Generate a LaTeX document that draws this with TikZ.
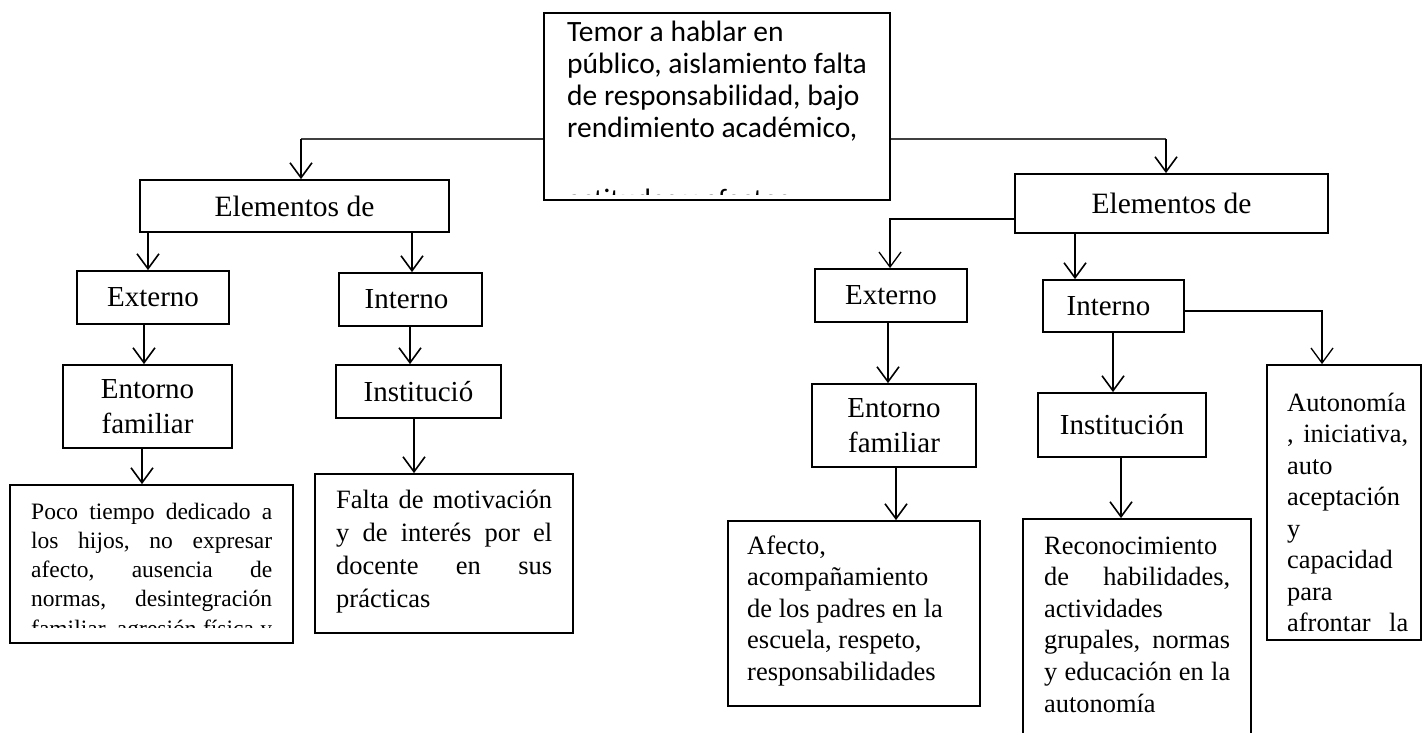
\documentclass[tikz,border=0pt]{standalone}
\usepackage{fontspec}
\setmainfont{Liberation Serif}
\newfontfamily\carlito{Carlito}
\usetikzlibrary{arrows.meta}
\newcommand{\J}[1]{\hbox to \hsize{\frenchspacing\spaceskip=0.25em plus 1fil\relax #1}}
\newcommand{\Lf}[1]{\hbox{#1}}
\begin{document}
\begin{tikzpicture}[x=1pt,y=-1pt,
  box/.style={draw, line width=1.8pt, inner sep=0pt},
  lbl/.style={font=\fontsize{29}{35}\selectfont, align=center},
  txt/.style={anchor=base west, inner sep=0pt},
  arr/.style={line width=1.6pt, -{Straight Barb[length=15pt,width=22pt]}},
  hline/.style={line width=1.2pt, draw=black!75}]
\path[use as bounding box] (0,0) rectangle (1423,732);
\clip (0,0) rectangle (1423,732);

% boxes
\node[box, minimum width=346pt, minimum height=187pt] (top) at (717,106.5) {};
\node[box, lbl, font=\fontsize{29.5}{35}\selectfont, minimum width=309pt, minimum height=52pt] (elemL) at (294.5,206) {Elementos de};
\node[box, lbl, font=\fontsize{29.5}{35}\selectfont, minimum width=313pt, minimum height=59pt] (elemR) at (1171.5,203.5) {Elementos de};
\node[box, lbl, minimum width=152pt, minimum height=53pt] (extL) at (153,297.5) {Externo};
\node[box, lbl, minimum width=143pt, minimum height=53pt] (intL) at (410.5,299.5) {Interno\hspace*{8pt}};
\node[box, lbl, minimum width=169pt, minimum height=83pt] (entL) at (147.5,406.5) {Entorno\\familiar};
\node[box, lbl, minimum width=165pt, minimum height=53pt] (instL) at (418.5,391.5) {Institució};
\node[box, minimum width=283pt, minimum height=158pt] (poco) at (151.5,564) {};
\node[box, minimum width=258pt, minimum height=159pt] (falta) at (444,553.5) {};
\node[box, lbl, minimum width=152pt, minimum height=53pt] (extR) at (891,295.5) {Externo};
\node[box, lbl, minimum width=141pt, minimum height=52pt] (intR) at (1113.5,306) {Interno\hspace*{10pt}};
\node[box, lbl, minimum width=164pt, minimum height=83pt] (entR) at (894,425.5) {Entorno\\familiar};
\node[box, lbl, minimum width=168pt, minimum height=64pt] (instR) at (1122,425) {Institución};
\node[box, minimum width=154pt, minimum height=275pt] (auto) at (1344,502.5) {};
\node[box, minimum width=252pt, minimum height=185pt] (afecto) at (854,613.5) {};
\node[box, minimum width=228pt, minimum height=251pt] (recon) at (1137,644.5) {};

% texts
\node[txt, font=\carlito\fontsize{29.5}{32}\selectfont] (top-t) at (567,41)
  {\parbox[t]{320pt}{\Lf{Temor a hablar en}\Lf{público, aislamiento falta}\Lf{de responsabilidad, bajo}\Lf{rendimiento académico,}}};
\begin{scope}
  \clip (545,14) rectangle (889,194);
  \node[txt, font=\carlito\fontsize{29.5}{32}\selectfont] (top-f) at (567,209) {actitudes y afectos};
\end{scope}
\begin{scope}
  \clip (11,486) rectangle (292,627);
  \node[txt, font=\fontsize{23.5}{29.3}\selectfont] (poco-t) at (31,519)
    {\parbox[t]{241pt}{\J{Poco tiempo dedicado a}\J{los hijos, no expresar}\J{afecto, ausencia de}\J{normas, desintegración}\J{familiar, agresión física y}}};
\end{scope}
\node[txt, font=\fontsize{26.5}{33}\selectfont] (falta-t) at (336,508)
  {\parbox[t]{216pt}{\J{Falta de motivación}\J{y de interés por el}\J{docente en sus}\Lf{prácticas}}};
\node[txt, font=\fontsize{26.5}{31.6}\selectfont] (afecto-t) at (747,554)
  {\parbox[t]{225pt}{\Lf{Afecto,}\Lf{acompañamiento}\Lf{de los padres en la}\Lf{escuela, respeto,}\Lf{responsabilidades}}};
\node[txt, font=\fontsize{26.4}{31.6}\selectfont] (recon-t) at (1044,554)
  {\parbox[t]{186pt}{\Lf{Reconocimiento}\J{de habilidades,}\Lf{actividades}\J{grupales, normas}\J{y educación en la}\Lf{autonomía}}};
\node[txt, font=\fontsize{26.4}{31.5}\selectfont] (auto-t) at (1287,411)
  {\parbox[t]{121pt}{\Lf{Autonomía}\J{, iniciativa,}\Lf{auto}\Lf{aceptación}\Lf{y}\Lf{capacidad}\Lf{para}\J{afrontar la}}};

% connector coordinates
\coordinate (cL) at (301,139);
\coordinate (cR) at (1166,139);
\coordinate (cE) at (890,219);
\coordinate (cA) at (1322,311);
\coordinate (x1) at (148,0);
\coordinate (x2) at (412,0);
\coordinate (x3) at (144,0);
\coordinate (x4) at (410,0);
\coordinate (x5) at (142,0);
\coordinate (x6) at (414,0);
\coordinate (x7) at (1075,0);
\coordinate (x8) at (888,0);
\coordinate (x9) at (1113,0);
\coordinate (x10) at (896,0);
\coordinate (x11) at (1121,0);

% connectors
\draw[hline] (top.west |- cL) -- (cL);
\draw[arr] (cL) -- (cL |- elemL.north);
\draw[hline] (top.east |- cR) -- (cR);
\draw[arr] (cR) -- (cR |- elemR.north);
\draw[arr] (elemL.south -| x1) -- (extL.north -| x1);
\draw[arr] (elemL.south -| x2) -- (intL.north -| x2);
\draw[arr] (extL.south -| x3) -- (entL.north -| x3);
\draw[arr] (intL.south -| x4) -- (instL.north -| x4);
\draw[arr] (entL.south -| x5) -- (poco.north -| x5);
\draw[arr] (instL.south -| x6) -- (falta.north -| x6);
\draw[arr, line width=1.3pt] (elemR.west |- cE) -| (cE |- extR.north);
\draw[arr] (elemR.south -| x7) -- (intR.north -| x7);
\draw[arr, line width=1.3pt] (intR.east |- cA) -| (cA |- auto.north);
\draw[arr] (extR.south -| x8) -- (entR.north -| x8);
\draw[arr] (intR.south -| x9) -- (instR.north -| x9);
\draw[arr] (entR.south -| x10) -- (afecto.north -| x10);
\draw[arr] (instR.south -| x11) -- (recon.north -| x11);
\end{tikzpicture}
\end{document}
